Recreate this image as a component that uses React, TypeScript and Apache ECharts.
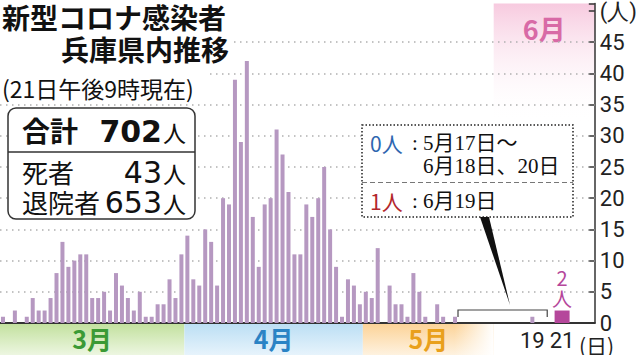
import React, { useEffect, useRef } from 'react';
import * as echarts from 'echarts';

// ---- data ----
const marchCases = [1, 0, 2, 0, 1, 4, 2, 2, 4, 8, 13, 9, 10, 11, 11, 4, 4, 5, 2, 8, 6, 4, 2, 5, 1, 1, 3, 3, 7, 4, 11];
const aprilCases = [14, 7, 6, 15, 13, 6, 20, 19, 39, 29, 42, 17, 9, 19, 20, 31, 27, 21, 11, 11, 19, 17, 20, 25, 15, 9, 1, 7, 6, 3];
const mayCases = [5, 4, 12, 0, 6, 3, 3, 1, 8, 5, 1, 0, 3, 1, 0, 1]; // 5/1 - 5/16
const juneDays = ['6/19', '6/20', '6/21'];
const juneCases = [1, 0, 2];
const highlightDay = '6/21';
const monthLabels = ['3月', '4月', '5月', '6月'];
const summaryLabels = ['合計', '死者', '退院者'];
const summaryValues = [702, 43, 653];
const yTickLabelTop = '(人)';

// compressed zero-case period (5/17 - 6/18) drawn as a few narrow slots
const ZERO_MAY_SLOTS = 6;
const ZERO_JUNE_SLOTS = 6;
const TRAILING_SLOTS = 5;

const categories: string[] = [];
const dailyValues: (number | null)[] = [];
marchCases.forEach((v, i) => { categories.push(`3/${i + 1}`); dailyValues.push(v); });
aprilCases.forEach((v, i) => { categories.push(`4/${i + 1}`); dailyValues.push(v); });
mayCases.forEach((v, i) => { categories.push(`5/${i + 1}`); dailyValues.push(v); });
for (let i = 0; i < ZERO_MAY_SLOTS; i++) { categories.push(`5/z${i}`); dailyValues.push(null); }
for (let i = 0; i < ZERO_JUNE_SLOTS; i++) { categories.push(`6/z${i}`); dailyValues.push(null); }
// 6/19, spacer, 6/20, spacer, spacer, 6/21
const juneLayout = [juneDays[0], '6/s0', juneDays[1], '6/s1', '6/s2', juneDays[2]];
juneLayout.forEach((c) => {
  categories.push(c);
  const k = juneDays.indexOf(c);
  dailyValues.push(k >= 0 ? juneCases[k] : null);
});
for (let i = 0; i < TRAILING_SLOTS; i++) { categories.push(`t${i}`); dailyValues.push(null); }

const normalValues = categories.map((c, i) => (c === highlightDay ? null : dailyValues[i]));
const highlightValues = categories.map((c, i) => (c === highlightDay ? dailyValues[i] : null));

const iMarEnd = marchCases.length - 1;
const iAprStart = marchCases.length;
const iAprEnd = iAprStart + aprilCases.length - 1;
const iMayStart = iAprEnd + 1;
const iMayEnd = iMayStart + mayCases.length + ZERO_MAY_SLOTS - 1;
const iJunStart = iMayEnd + 1;
const iJunEnd = categories.length - 1;
const monthBands = [
  [0, iMarEnd, 0],
  [iAprStart, iAprEnd, 1],
  [iMayStart, iMayEnd, 2],
  [iJunStart, iJunEnd, 3],
];
const bracketRange = [[iMayStart + mayCases.length, categories.indexOf('6/20')]];

const dayLabel: Record<string, string> = {};
[juneDays[0], juneDays[2]].forEach((d) => { dayLabel[d] = d.split('/')[1]; });

// ---- styles ----
const JP = '"Noto Sans CJK JP", sans-serif';
const SERIF = '"Liberation Serif", "Noto Sans CJK JP", serif';
const NUM = '"DejaVu Sans", sans-serif';
const Y_MAX = 51.2;
const bandStyles = [
  { c0: '#c3e19f', c1: '#eef7e3', text: '#3b9a35' },
  { c0: '#bcdff4', c1: '#e8f4fc', text: '#2a83c5' },
  { c0: '#fcd398', c1: '#fef3e2', text: '#e9a01c' },
  { c0: '#f7cadf', c1: 'rgba(255,255,255,0)', text: '#d86aa6' },
];

const bandRender = (params: any, api: any) => {
  const s = api.value(0);
  const e = api.value(1);
  const k = api.value(2);
  const bw = api.size([1, 0])[0];
  const p0 = api.coord([s, 0]);
  const p1 = api.coord([e, 0]);
  const x0 = p0[0] - bw / 2;
  const x1 = p1[0] + bw / 2;
  const st = bandStyles[k];
  if (k < 3) {
    const base = p0[1];
    const children: any[] = [
      {
        type: 'rect',
        shape: { x: x0, y: base + 1, width: x1 - x0, height: 32 },
        style: { fill: new echarts.graphic.LinearGradient(0, 0, 0, 1, [{ offset: 0, color: st.c0 }, { offset: 1, color: st.c1 }]) },
      },
    ];
    if (k === 2) {
      children.push({
        type: 'rect',
        shape: { x: x0, y: base + 1, width: x1 - x0, height: 32 },
        style: { fill: new echarts.graphic.LinearGradient(0, 0, 1, 0, [{ offset: 0, color: 'rgba(255,255,255,0)' }, { offset: 0.7, color: 'rgba(255,255,255,0)' }, { offset: 1, color: 'rgba(255,255,255,1)' }]) },
      });
    }
    children.push({
      type: 'text',
      x: (x0 + x1) / 2,
      y: base + 15,
      style: { text: monthLabels[k], fill: st.text, fontSize: 25, fontWeight: 'bold', fontFamily: JP, align: 'center', verticalAlign: 'middle', textAlign: 'center', textVerticalAlign: 'middle' },
    });
    return { type: 'group', children };
  }
  const top = api.coord([s, Y_MAX])[1];
  return {
    type: 'group',
    children: [
      {
        type: 'rect',
        shape: { x: x0, y: top, width: x1 - x0, height: 120 },
        style: { fill: new echarts.graphic.LinearGradient(0, 0, 0, 1, [{ offset: 0, color: st.c0 }, { offset: 1, color: st.c1 }]) },
      },
      {
        type: 'text',
        x: (x0 + x1) / 2,
        y: top + 25,
        style: { text: monthLabels[k], fill: st.text, fontSize: 27, fontWeight: 'bold', fontFamily: JP, align: 'center', verticalAlign: 'middle', textAlign: 'center', textVerticalAlign: 'middle' },
      },
    ],
  };
};

const bracketRender = (params: any, api: any) => {
  const bw = api.size([1, 0])[0];
  const p0 = api.coord([api.value(0), 0]);
  const p1 = api.coord([api.value(1), 0]);
  const x0 = p0[0] - bw / 2;
  const x1 = p1[0] + bw / 2;
  const b = p0[1];
  return {
    type: 'polyline',
    shape: { points: [[x0, b - 6], [x0, b - 13], [x1, b - 13], [x1, b - 6]] },
    style: { stroke: '#444', lineWidth: 1.2, fill: 'none' },
  };
};

const gridLineValues = [5, 10, 15, 20, 25, 30, 35, 40, 45];

const txt = (text: string, x: number, y: number, o: any = {}) => ({
  type: 'text',
  x,
  y,
  z: 101,
  style: {
    text,
    fill: o.fill || '#111',
    fontSize: o.size || 20,
    fontWeight: o.weight || 'normal',
    fontFamily: o.family || JP,
    align: o.align || 'left',
    verticalAlign: 'middle',
    textAlign: o.align || 'left',
    textVerticalAlign: 'middle',
  },
});

const summaryRows = summaryLabels.map((label, i) => {
  const y = [130, 171, 201][i];
  const bold = i === 0;
  return [
    txt(label, 22, y, { size: bold ? 28 : 26, weight: bold ? 'bold' : 'normal' }),
    txt(String(summaryValues[i]), 162, y + 1, { size: 30, weight: bold ? 'bold' : 'normal', family: NUM, align: 'right' }),
    txt('人', 163, y + 2, { size: 23 }),
  ];
}).flat();

const option: any = {
  animation: false,
  backgroundColor: '#fff',
  grid: { left: 0, right: 37, top: 0, bottom: 32, containLabel: false },
  xAxis: [
    {
      type: 'category',
      data: categories,
      boundaryGap: true,
      axisLine: { show: true, lineStyle: { color: '#333', width: 2 } },
      axisTick: { show: false },
      axisLabel: {
        interval: 0,
        margin: 6,
        color: '#222',
        fontSize: 22,
        fontFamily: 'Roboto',
        formatter: (v: string) => dayLabel[v] ?? '',
      },
      splitLine: { show: false },
    },
    { type: 'category', data: categories, show: false, gridIndex: 0 },
  ],
  yAxis: {
    type: 'value',
    position: 'right',
    min: 0,
    max: Y_MAX,
    interval: 5,
    axisLine: { show: true, lineStyle: { color: '#333', width: 1.5 } },
    axisTick: { show: true, inside: true, length: 6, lineStyle: { color: '#333', width: 1.5 } },
    axisLabel: {
      margin: 5,
      color: '#222',
      fontSize: 22,
      fontFamily: 'Roboto',
      formatter: (v: number) => (v === 50 ? yTickLabelTop : v > 50 ? '' : String(v)),
    },
    splitLine: { show: false },
  },
  series: [
    {
      type: 'custom',
      name: 'months',
      silent: true,
      z: 0,
      clip: false,
      renderItem: bandRender,
      encode: { x: [0, 1] },
      data: monthBands,
    },
    {
      type: 'bar',
      name: 'daily',
      z: 2,
      barWidth: 4,
      data: normalValues,
      itemStyle: { color: '#b698c1' },
      markLine: {
        z: 1,
        silent: true,
        symbol: 'none',
        label: { show: false },
        lineStyle: { color: '#b0b0b0', width: 1.5, type: [1.5, 4.5] },
        data: gridLineValues.map((v) => ({ yAxis: v })),
      },
    },
    {
      type: 'bar',
      name: 'latest',
      xAxisIndex: 1,
      z: 3,
      barWidth: 15,
      data: highlightValues,
      itemStyle: { color: '#b5479b' },
      label: {
        show: true,
        position: 'top',
        distance: 2,
        formatter: (p: any) => `${p.value}\n人`,
        color: '#b5479b',
        fontSize: 20,
        lineHeight: 21,
        fontFamily: JP,
      },
    },
    {
      type: 'custom',
      name: 'bracket',
      silent: true,
      z: 3,
      clip: false,
      renderItem: bracketRender,
      encode: { x: [0, 1] },
      data: bracketRange,
    },
  ],
  graphic: [
    { type: 'rect', z: 100, shape: { x: 0, y: 0, width: 232, height: 64 }, style: { fill: '#fff' } },
    { type: 'rect', z: 100, shape: { x: 0, y: 64, width: 206, height: 40 }, style: { fill: '#fff' } },
    txt('新型コロナ感染者', 2, 17, { size: 28, weight: 'bold' }),
    txt('兵庫県内推移', 229, 49, { size: 28, weight: 'bold', align: 'right' }),
    txt('(21日午後9時現在)', 2, 88, { size: 23 }),
    { type: 'rect', z: 100, shape: { x: 8, y: 108, width: 187, height: 111, r: 8 }, style: { fill: '#fff', stroke: '#333', lineWidth: 1.5 } },
    { type: 'line', z: 101, shape: { x1: 8, y1: 152, x2: 195, y2: 152 }, style: { stroke: '#333', lineWidth: 1.5 } },
    ...summaryRows,
    { type: 'rect', z: 100, shape: { x: 362, y: 125, width: 211, height: 92 }, style: { fill: '#fff', stroke: '#222', lineWidth: 1.5, lineDash: [1.5, 2] } },
    { type: 'line', z: 101, shape: { x1: 362, y1: 182.5, x2: 573, y2: 182.5 }, style: { stroke: '#777', lineWidth: 1, lineDash: [5, 3] } },
    txt('0人', 370, 143, { size: 21, fill: '#2f66b0' }),
    txt(':', 412, 143, { size: 21, family: SERIF }),
    txt('5月17日～', 423, 143, { size: 21, family: SERIF }),
    txt('6月18日、20日', 423, 166, { size: 21, family: SERIF }),
    txt('1人', 370, 201, { size: 21, fill: '#b3262c' }),
    txt(':', 412, 201, { size: 21, family: SERIF }),
    txt('6月19日', 423, 201, { size: 21, family: SERIF }),
    { type: 'polygon', z: 101, shape: { points: [[480, 217], [489, 217], [510, 305]] }, style: { fill: '#111' } },
    txt('(日)', 579, 345, { size: 21, family: JP, fill: '#222' }),
  ],
};

export default function App() {
  const ref = useRef<HTMLDivElement>(null);
  useEffect(() => {
    if (!ref.current) return;
    const chart = echarts.init(ref.current, null, { renderer: 'svg' });
    chart.setOption(option);
    return () => chart.dispose();
  }, []);
  return (
    <div
      ref={ref}
      style={{ position: 'fixed', left: 0, top: 0, width: 640, height: 355, background: '#fff' }}
    />
  );
}
